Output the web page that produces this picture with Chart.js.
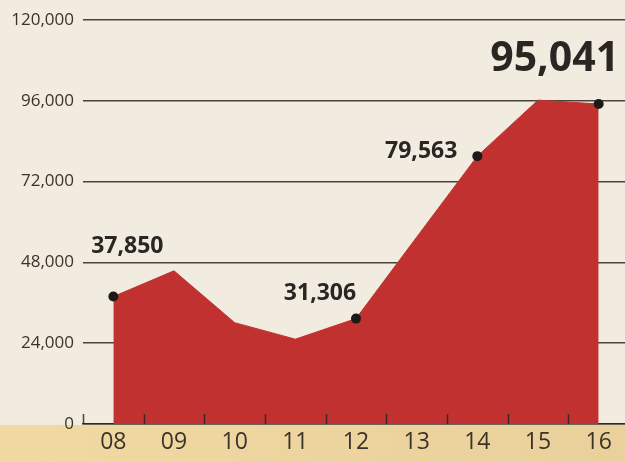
<!DOCTYPE html>
<html>
<head>
<meta charset="utf-8">
<script src="https://cdn.jsdelivr.net/npm/chart.js@4"></script>
<style>
  html, body { margin: 0; padding: 0; overflow: hidden; background: #f2ecdc; }
  #wrap { width: 634px; height: 462px; }
</style>
</head>
<body>
<div id="wrap"><canvas id="chart" width="634" height="462"></canvas></div>
<script>
// ---------------------------------------------------------
// Data
// ---------------------------------------------------------
const years = ["08", "09", "10", "11", "12", "13", "14", "15", "16"];
const production = [37850, 45500, 30100, 25200, 31306, 55500, 79563, 96200, 95041];
const yTickValues = [0, 24000, 48000, 72000, 96000, 120000];
const labeledYears = ["08", "12", "14", "16"];

const RED = "#c13130";
const INK = "#2a2623";

const fmt = v => v.toLocaleString("en-US");

// ---------------------------------------------------------
// Plugin: paper background + tan band under the axis
// ---------------------------------------------------------
const paperPlugin = {
  id: "paper",
  beforeDraw(chart) {
    const { ctx, chartArea } = chart;
    ctx.save();
    ctx.fillStyle = "#f1ecdf";
    ctx.fillRect(0, 0, chart.width, chart.height);
    const g = ctx.createLinearGradient(0, 0, chart.width, 0);
    g.addColorStop(0, "#f1d9a2");
    g.addColorStop(1, "#ead09b");
    ctx.fillStyle = g;
    ctx.fillRect(0, chartArea.bottom + 1, chart.width, chart.height - chartArea.bottom);
    ctx.restore();
  }
};

// ---------------------------------------------------------
// Plugin: small upward tick marks between years + value callouts
// ---------------------------------------------------------
const calloutPlugin = {
  id: "callouts",
  afterDatasetsDraw(chart) {
    const { ctx, chartArea } = chart;
    const x = chart.scales.x;
    ctx.save();
    ctx.strokeStyle = "rgba(45,38,32,0.85)";
    ctx.lineWidth = 1.5;
    for (let i = 0; i <= years.length; i++) {
      const px = Math.round(x.getPixelForValue(i - 0.5)) + 0.5;
      ctx.beginPath();
      ctx.moveTo(px, chartArea.bottom);
      ctx.lineTo(px, chartArea.bottom - 10);
      ctx.stroke();
    }
    ctx.restore();
  },
  afterDraw(chart) {
    const { ctx } = chart;
    const meta = chart.getDatasetMeta(0);
    // offsets from the point to the text (style only)
    const place = {
      "08": { dx: 14, dy: -50, align: "center", size: 23 },
      "12": { dx: -36, dy: -25, align: "center", size: 23 },
      "14": { dx: -20, dy: -5, align: "right", size: 23 },
      "16": { dx: -44, dy: -45, align: "center", size: 41 }
    };
    ctx.save();
    ctx.fillStyle = INK;
    ctx.textBaseline = "middle";
    labeledYears.forEach(yr => {
      const i = years.indexOf(yr);
      const pt = meta.data[i];
      const p = place[yr];
      ctx.font = `bold ${p.size}px "Open Sans"`;
      ctx.textAlign = p.align;
      ctx.fillText(fmt(production[i]), pt.x + p.dx, pt.y + p.dy);
    });
    ctx.restore();
  }
};

new Chart(document.getElementById("chart"), {
  type: "line",
  data: {
    labels: years,
    datasets: [{
      data: production,
      fill: "origin",
      backgroundColor: RED,
      borderColor: RED,
      borderWidth: 1,
      tension: 0,
      pointRadius: years.map(y => labeledYears.includes(y) ? 5 : 0),
      pointBackgroundColor: "#1c1a19",
      pointBorderWidth: 0
    }]
  },
  options: {
    responsive: false,
    animation: false,
    layout: { padding: { top: 20, right: 0, left: 0, bottom: 0 } },
    plugins: {
      legend: { display: false },
      tooltip: { enabled: false }
    },
    scales: {
      x: {
        type: "category",
        offset: true,
        grid: { display: false, drawTicks: false },
        border: { display: true, color: "rgba(45,38,32,0.9)", width: 1.5 },
        ticks: {
          color: "#3a332a",
          font: { family: "Open Sans", size: 23 },
          padding: 5,
          maxRotation: 0,
          autoSkip: false
        },
        afterFit(scale) { scale.height = 38; }
      },
      y: {
        min: 0,
        max: 120000,
        z: 1,
        afterBuildTicks(scale) { scale.ticks = yTickValues.map(v => ({ value: v })); },
        grid: { color: "rgba(45,38,32,0.85)", lineWidth: 1.5, drawTicks: false },
        border: { display: false },
        ticks: {
          color: "#3a332a",
          font: { family: "Open Sans", size: 17 },
          padding: 9,
          callback: v => fmt(v)
        },
        afterFit(scale) { scale.width = 83; }
      }
    }
  },
  plugins: [paperPlugin, calloutPlugin]
});
</script>
</body>
</html>
